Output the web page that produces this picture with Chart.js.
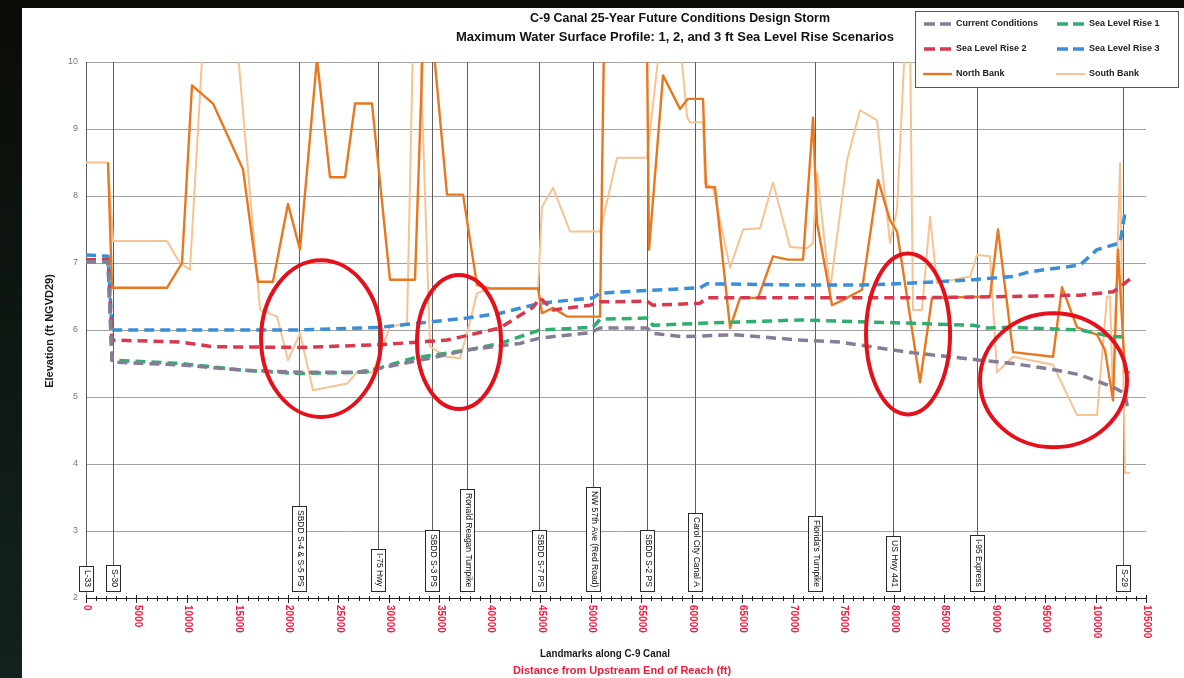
<!DOCTYPE html>
<html>
<head>
<meta charset="utf-8">
<script src="https://cdn.jsdelivr.net/npm/chart.js@4.4.1/dist/chart.umd.min.js"></script>
<style>
  html, body { margin: 0; padding: 0; width: 1184px; height: 678px; overflow: hidden;
    background: linear-gradient(180deg, #0a0c07 0%, #0f1812 55%, #13221f 100%); }
  #wrap { position: absolute; left: 22px; top: 8px; width: 1162px; height: 670px; background: #fff; }
  canvas { display: block; }
</style>
</head>
<body>
<div id="wrap"><canvas id="profile" width="1162" height="670"></canvas></div>
<script>
// Station along the canal (ft from upstream end) and maximum water surface elevation (ft NGVD29)
const currentDist = [0, 2180, 2580, 9310, 15550, 21200, 26850, 29120, 34080, 37740, 42990, 44970, 49930, 50920, 55570, 56170, 59140, 64090, 70730, 74690, 78650, 81920, 88560, 91830, 96190, 98470, 101730, 102920, 103220];
const currentElev = [7.02, 7.02, 5.52, 5.48, 5.40, 5.37, 5.37, 5.43, 5.58, 5.70, 5.80, 5.88, 5.96, 6.03, 6.03, 5.95, 5.90, 5.93, 5.85, 5.82, 5.73, 5.66, 5.55, 5.50, 5.40, 5.33, 5.15, 5.05, 4.80];

const slr1Dist = [0, 2180, 2580, 9310, 15550, 21200, 27640, 32390, 37740, 41010, 44970, 50220, 50920, 55570, 56170, 60820, 70730, 81920, 87870, 89250, 91830, 98470, 101730, 102630];
const slr1Elev = [7.02, 7.02, 5.55, 5.50, 5.40, 5.35, 5.37, 5.58, 5.70, 5.80, 6.00, 6.04, 6.16, 6.18, 6.07, 6.10, 6.15, 6.10, 6.07, 6.03, 6.04, 6.00, 5.90, 5.90];

const slr2Dist = [0, 2180, 2580, 9310, 12580, 21200, 29120, 35760, 41010, 44280, 44970, 46260, 49930, 50920, 55570, 56170, 60820, 61520, 70730, 81920, 91830, 98470, 101730, 102430, 103420];
const slr2Elev = [7.05, 7.05, 5.85, 5.82, 5.75, 5.74, 5.78, 5.85, 6.03, 6.34, 6.48, 6.30, 6.37, 6.42, 6.43, 6.37, 6.40, 6.48, 6.48, 6.48, 6.50, 6.52, 6.57, 6.64, 6.76];

const slr3Dist = [0, 2180, 2580, 21200, 29120, 37740, 41010, 44970, 50220, 50920, 55570, 60820, 61520, 70730, 76870, 81920, 87870, 91830, 93510, 98470, 100150, 102430, 102920];
const slr3Elev = [7.12, 7.10, 6.00, 6.00, 6.04, 6.18, 6.25, 6.40, 6.48, 6.55, 6.59, 6.63, 6.69, 6.67, 6.67, 6.70, 6.75, 6.80, 6.87, 6.97, 7.20, 7.30, 7.75];

// Bank crest elevations (values above 10 run off the top of the plot)
const northDist = [2180, 2580, 8020, 9510, 10500, 12580, 15550, 17040, 18520, 20010, 21200, 22880, 24170, 25660, 26650, 28330, 30110, 32590, 33380, 34370, 35760, 37350, 38730, 40020, 44780, 45170, 46260, 47650, 50920, 51310, 55570, 55770, 57160, 58840, 59630, 61120, 61420, 62310, 63800, 64790, 66570, 68050, 69540, 71030, 72020, 72410, 73900, 74990, 76870, 78460, 79640, 80340, 82620, 83800, 89550, 90340, 91830, 95790, 96680, 98170, 100150, 100940, 101730, 102230, 102920, 103420];
const northElev = [8.5, 6.63, 6.63, 7.0, 9.65, 9.38, 8.4, 6.72, 6.72, 7.88, 7.2, 10.05, 8.28, 8.28, 9.38, 9.38, 6.75, 6.75, 10.3, 10.3, 8.02, 8.02, 6.67, 6.62, 6.62, 6.25, 6.33, 6.2, 6.2, 10.3, 10.3, 7.2, 9.8, 9.3, 9.45, 9.45, 8.13, 8.13, 6.03, 6.48, 6.48, 7.1, 7.05, 7.05, 9.17, 7.6, 6.37, 6.45, 6.6, 8.24, 7.64, 7.47, 5.22, 6.48, 6.5, 7.5, 5.67, 5.6, 6.64, 6.04, 5.93, 5.7, 4.95, 7.2, 5.37, 5.37];

const southDist = [0, 2180, 2680, 8020, 9310, 10300, 11590, 14960, 17240, 18920, 20010, 21200, 22490, 25860, 26850, 28430, 30110, 31800, 32390, 33090, 34080, 35760, 37050, 37740, 38730, 40020, 44780, 45170, 46260, 47950, 50920, 52600, 55570, 56860, 58840, 59540, 59830, 61120, 61320, 62110, 63800, 65080, 66770, 68050, 69740, 71420, 72020, 72410, 73700, 75390, 76670, 78360, 79640, 80340, 81130, 81630, 81920, 82810, 83610, 84300, 87570, 88260, 89550, 90240, 91830, 95790, 98170, 100150, 101140, 101440, 101730, 102430, 102920, 103420];
const southElev = [8.5, 8.5, 7.33, 7.33, 7.0, 6.9, 10.3, 10.3, 6.3, 6.2, 5.55, 5.95, 5.1, 5.2, 5.37, 5.37, 6.05, 6.1, 10.3, 10.3, 5.75, 5.6, 5.58, 5.95, 6.55, 6.62, 6.62, 7.84, 8.12, 7.47, 7.47, 8.57, 8.57, 10.3, 10.3, 9.18, 9.1, 9.1, 8.19, 8.12, 6.93, 7.5, 7.52, 8.2, 7.24, 7.22, 7.3, 8.34, 6.6, 8.54, 9.28, 9.13, 7.3, 7.8, 10.3, 10.3, 6.3, 6.3, 7.69, 6.7, 6.8, 7.12, 7.1, 5.37, 5.6, 5.48, 4.73, 4.73, 6.5, 6.5, 4.95, 8.49, 3.87, 3.87];

// Landmarks along the canal
const landmarkNames = ['L-33', 'S-30', 'SBDD S-4 & S-5 PS', 'I-75 Hwy', 'SBDD S-3 PS', 'Ronald Reagan Turnpike', 'SBDD S-7 PS', 'NW 57th Ave (Red Road)', 'SBDD S-2 PS', 'Carol City Canal A', "Florida's Turnpike", 'US Hwy 441', 'I-95 Express', 'S-29'];
const landmarkDist = [0, 2700, 21130, 28900, 34250, 37710, 44900, 50250, 55540, 60330, 72210, 79970, 88230, 102700];

// Reaches where the banks dip toward the water surface (centre station/elevation and half-extents)
const zoneCenterDist = [23280, 36950, 81430, 95840];
const zoneCenterElev = [5.87, 5.82, 5.94, 5.25];
const zoneHalfDist = [5940, 4160, 4160, 7280];
const zoneHalfElev = [1.17, 1.0, 1.2, 1.0];

// Distance tick labels
const distanceTicks = [0, 5000, 10000, 15000, 20000, 25000, 30000, 35000, 40000, 45000, 50000, 55000, 60000, 65000, 70000, 75000, 80000, 85000, 90000, 95000, 100000, 105000];

const seriesNames = ['Current Conditions', 'Sea Level Rise 1', 'Sea Level Rise 2', 'Sea Level Rise 3', 'North Bank', 'South Bank'];

const titleLines = ['C-9 Canal 25-Year Future Conditions Design Storm', 'Maximum Water Surface Profile: 1, 2, and 3 ft Sea Level Rise Scenarios'];
const xTitleLines = ['Landmarks along C-9 Canal', 'Distance from Upstream End of Reach (ft)'];
const yTitle = 'Elevation (ft NGVD29)';

const toPoints = (dist, elev) => dist.map((d, i) => ({ x: d, y: elev[i] }));

const dashed = (label, color, dist, elev) => ({
  label, data: toPoints(dist, elev), borderColor: color, backgroundColor: color,
  borderWidth: 3.5, borderDash: [10, 6], borderCapStyle: 'butt', borderJoinStyle: 'round',
  pointRadius: 0, tension: 0, fill: false
});
const solid = (label, color, width, dist, elev) => ({
  label, data: toPoints(dist, elev), borderColor: color, backgroundColor: color,
  borderWidth: width, borderJoinStyle: 'round', pointRadius: 0, tension: 0, fill: false
});

const datasets = [
  dashed(seriesNames[0], '#857d96', currentDist, currentElev),
  dashed(seriesNames[1], '#2fae70', slr1Dist, slr1Elev),
  dashed(seriesNames[2], '#d8394f', slr2Dist, slr2Elev),
  dashed(seriesNames[3], '#3a8fd8', slr3Dist, slr3Elev),
  solid(seriesNames[4], '#e8781f', 2.4, northDist, northElev),
  solid(seriesNames[5], '#f8c293', 2, southDist, southElev)
];

const FONT = '"Liberation Sans", Arial, sans-serif';

// Landmark lines, labelled boxes, highlight rings, axis decorations, titles and legend
const profileDecor = {
  id: 'profileDecor',
  beforeDatasetsDraw(chart) {
    const { ctx, chartArea: a, scales: { x } } = chart;
    ctx.save();
    ctx.font = '8.5px ' + FONT;
    landmarkNames.forEach((name, i) => {
      const px = Math.round(x.getPixelForValue(landmarkDist[i]));
      const w = ctx.measureText(name).width;
      const boxH = Math.round(w + 8), boxW = 15;
      const boxBottom = a.bottom - 7;
      const boxTop = boxBottom - boxH;
      ctx.strokeStyle = '#5e5e5e';
      ctx.lineWidth = 1;
      ctx.beginPath();
      ctx.moveTo(px + 0.5, a.top);
      ctx.lineTo(px + 0.5, boxTop);
      ctx.stroke();
      ctx.fillStyle = '#fff';
      ctx.fillRect(px - 7, boxTop, boxW, boxH);
      ctx.strokeStyle = '#2a2a2a';
      ctx.strokeRect(px - 7 + 0.5, boxTop + 0.5, boxW - 1, boxH);
      ctx.save();
      ctx.translate(px + 1, boxTop + 4);
      ctx.rotate(Math.PI / 2);
      ctx.fillStyle = '#111';
      ctx.textAlign = 'left';
      ctx.textBaseline = 'middle';
      ctx.fillText(name, 0, 0);
      ctx.restore();
    });
    ctx.restore();
  },
  afterDatasetsDraw(chart) {
    const { ctx, scales: { x, y } } = chart;
    ctx.save();
    ctx.strokeStyle = '#e5101a';
    ctx.lineWidth = 4;
    zoneCenterDist.forEach((d, i) => {
      const cx = x.getPixelForValue(d);
      const cy = y.getPixelForValue(zoneCenterElev[i]);
      const rx = Math.abs(x.getPixelForValue(d + zoneHalfDist[i]) - cx);
      const ry = Math.abs(y.getPixelForValue(zoneCenterElev[i] + zoneHalfElev[i]) - cy);
      ctx.beginPath();
      ctx.ellipse(cx, cy, rx, ry, 0, 0, Math.PI * 2);
      ctx.stroke();
    });
    ctx.restore();
  },
  afterDraw(chart) {
    const { ctx, chartArea: a, scales: { x } } = chart;
    ctx.save();

    // axis tick marks
    ctx.strokeStyle = '#222';
    ctx.lineWidth = 1;
    for (let v = 0; v <= 105000; v += 1000) {
      const px = Math.round(x.getPixelForValue(v)) + 0.5;
      const major = v % 5000 === 0;
      ctx.beginPath();
      ctx.moveTo(px, a.bottom - (major ? 3 : 2));
      ctx.lineTo(px, a.bottom + (major ? 5 : 3));
      ctx.stroke();
    }

    // distance labels, rotated to read downward
    ctx.fillStyle = '#f5173d';
    ctx.font = 'bold 10px ' + FONT;
    ctx.textAlign = 'left';
    ctx.textBaseline = 'middle';
    distanceTicks.forEach(v => {
      const px = x.getPixelForValue(v);
      ctx.save();
      ctx.translate(px + 1, a.bottom + 7);
      ctx.rotate(Math.PI / 2);
      ctx.fillText(String(v), 0, 0);
      ctx.restore();
    });

    // axis titles
    ctx.textAlign = 'center';
    ctx.fillStyle = '#1a1a1a';
    ctx.font = 'bold 11px ' + FONT;
    ctx.fillText(xTitleLines[0], 583, 646, 130);
    ctx.fillStyle = '#f01a3a';
    ctx.fillText(xTitleLines[1], 600, 663, 220);

    ctx.save();
    ctx.translate(28, 323);
    ctx.rotate(-Math.PI / 2);
    ctx.fillStyle = '#1a1a1a';
    ctx.font = 'bold 11px ' + FONT;
    ctx.fillText(yTitle, 0, 0, 140);
    ctx.restore();

    // chart title
    ctx.fillStyle = '#111';
    ctx.font = 'bold 13px ' + FONT;
    ctx.fillText(titleLines[0], 658, 10, 300);
    ctx.fillText(titleLines[1], 653, 29, 444);

    // legend
    const lx = 893, ly = 3, lw = 263, lh = 76;
    ctx.fillStyle = '#fff';
    ctx.fillRect(lx, ly, lw, lh);
    ctx.strokeStyle = '#555';
    ctx.lineWidth = 1;
    ctx.strokeRect(lx + 0.5, ly + 0.5, lw, lh);
    ctx.font = 'bold 9px ' + FONT;
    ctx.textAlign = 'left';
    ctx.textBaseline = 'middle';
    chart.data.datasets.forEach((ds, i) => {
      const col = i % 2, row = Math.floor(i / 2);
      const sx = lx + 7 + col * 133;
      const sy = ly + 13 + row * 25;
      ctx.strokeStyle = ds.borderColor;
      ctx.lineWidth = ds.borderDash ? 3.5 : ds.borderWidth;
      ctx.beginPath();
      if (ds.borderDash) {
        ctx.moveTo(sx + 2, sy); ctx.lineTo(sx + 13, sy);
        ctx.moveTo(sx + 18, sy); ctx.lineTo(sx + 29, sy);
      } else {
        ctx.moveTo(sx + 1, sy); ctx.lineTo(sx + 30, sy);
      }
      ctx.stroke();
      ctx.fillStyle = '#222';
      ctx.fillText(ds.label, sx + 34, sy, 88);
    });

    ctx.restore();
  }
};

new Chart(document.getElementById('profile'), {
  type: 'line',
  data: { datasets },
  options: {
    responsive: false,
    animation: false,
    devicePixelRatio: 1,
    parsing: true,
    layout: { padding: { top: 54, right: 38, left: 0, bottom: 0 } },
    plugins: { legend: { display: false }, title: { display: false }, tooltip: { enabled: false } },
    scales: {
      x: {
        type: 'linear', min: 0, max: 105000,
        ticks: { display: false, stepSize: 5000 },
        grid: { display: false },
        border: { display: true, color: '#222', width: 1 },
        afterFit: s => { s.height = 80; }
      },
      y: {
        min: 2, max: 10,
        ticks: { stepSize: 1, color: '#777', font: { size: 9, family: FONT }, padding: 8 },
        grid: { color: '#a3a3a3', lineWidth: 1, drawTicks: false },
        border: { display: true, color: '#8a8a8a', width: 1 },
        afterFit: s => { s.width = 64; }
      }
    }
  },
  plugins: [profileDecor]
});
</script>
</body>
</html>
